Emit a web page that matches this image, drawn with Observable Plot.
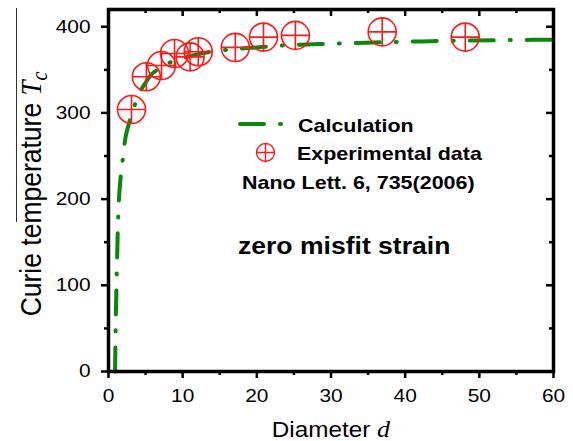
<!DOCTYPE html>
<html><head><meta charset="utf-8">
<script src="https://cdn.jsdelivr.net/npm/d3@7"></script>
<script src="https://cdn.jsdelivr.net/npm/@observablehq/plot@0.6"></script>
<style>
body{margin:0;background:#fff;}
#wrap{position:relative;width:573px;height:441px;background:#fff;}
#wrap svg{position:absolute;left:0;top:0;}
#artifact{position:absolute;left:16px;top:8px;width:1px;height:214px;background:#333;}
</style></head><body>
<div id="wrap"></div>
<script>
// Calculation curve (dash-dot)
const calcD  = [0.88, 0.9, 0.95, 1.04, 1.15, 1.25, 1.4, 1.6, 1.85, 2.3, 2.7, 3.2, 4.1, 5.0, 5.7, 6.8, 7.9, 9.2, 10.6, 12.5, 14.7, 17, 20, 24, 28.6, 33, 37, 42, 48, 54, 60];
const calcTc = [0, 10, 42, 86, 128, 163, 198, 222, 241, 272, 286, 300, 322, 335, 344, 351, 357, 361, 365, 369, 372, 374, 376, 378.5, 380, 381, 382, 383, 384, 384.5, 385];
// Experimental data (Nano Lett. 6, 735 (2006))
const expD  = [3.1, 5.1, 7.15, 8.9, 11.0, 12.1, 17.1, 20.9, 25.2, 36.9, 48.1];
const expTc = [304, 342, 355, 369, 365, 371, 376, 388, 390, 394, 388];
// Ticks
const xTicks = [0, 10, 20, 30, 40, 50, 60];
const xMinor = [5, 15, 25, 35, 45, 55];
const yTicks = [0, 100, 200, 300, 400];
const yMinor = [50, 150, 250, 350];
// Texts
const legendCalc = "Calculation";
const legendExp = "Experimental data";
const legendRef = "Nano Lett. 6, 735(2006)";
const note = "zero misfit strain";

const green = "#0b870b", red = "#ff1a1a";
const W = 573, H = 441, mL = 108, mR = 20, mT = 9, mB = 70;
const plotW = W - mL - mR, plotH = H - mT - mB;
const SANS = "'Liberation Sans', Arial, Helvetica, sans-serif";
const SERIF = "'Liberation Serif', 'Times New Roman', serif";

const calc = calcD.map((d, i) => ({d, tc: calcTc[i]}));
const exp = expD.map((d, i) => ({d, tc: expTc[i]}));

const crossCircle = {
  draw(ctx, size) {
    const r = Math.sqrt(size / Math.PI);
    ctx.moveTo(r, 0); ctx.arc(0, 0, r, 0, 2 * Math.PI);
    ctx.moveTo(-r, 0); ctx.lineTo(r, 0);
    ctx.moveTo(0, -r); ctx.lineTo(0, r);
  }
};

const tk = {strokeWidth: 2.5, stroke: "#000"};
const chart = Plot.plot({
  width: W, height: H,
  marginLeft: mL, marginRight: mR, marginTop: mT, marginBottom: mB,
  style: {fontFamily: SANS, fontSize: "18.5px", color: "#000", background: "#fff", overflow: "visible"},
  x: {domain: [0, 60]},
  y: {domain: [0, 420]},
  marks: [
    Plot.axisX({ticks: xTicks, tickSize: 7, tickPadding: 10, strokeWidth: 2.5, label: null, fontSize: 18.5}),
    Plot.tickX(xMinor, {x: d => d, insetTop: plotH, insetBottom: -4, ...tk}),
    Plot.tickX(xTicks, {x: d => d, insetBottom: plotH - 7, ...tk}),
    Plot.tickX(xMinor, {x: d => d, insetBottom: plotH - 4, ...tk}),
    Plot.axisY({ticks: yTicks, tickSize: 7, tickPadding: 11, strokeWidth: 2.5, label: null, fontSize: 18.5}),
    Plot.tickY(yMinor, {y: d => d, insetRight: plotW, insetLeft: -4, ...tk}),
    Plot.tickY(yTicks, {y: d => d, insetLeft: plotW - 7, ...tk}),
    Plot.tickY(yMinor, {y: d => d, insetLeft: plotW - 4, ...tk}),
    Plot.line(calc, {x: "d", y: "tc", curve: "monotone-x", stroke: green, strokeWidth: 4,
      strokeDasharray: "24,16,1,16", strokeLinecap: "round"}),
    Plot.dot(exp, {x: "d", y: "tc", r: 14, symbol: crossCircle, stroke: red, fill: "none", strokeWidth: 1.6}),
    Plot.frame({stroke: "#000", strokeWidth: 3.5})
  ]
});

const wrap = document.getElementById("wrap");
wrap.appendChild(chart);
const art = document.createElement("div"); art.id = "artifact"; wrap.appendChild(art);

const svg = d3.select(chart);
const ann = svg.append("g");

// Legend
ann.append("path").attr("d", "M240,124H281").attr("fill", "none").attr("stroke", green)
  .attr("stroke-width", 4).attr("stroke-dasharray", "24,16,1,16").attr("stroke-linecap", "round");
ann.append("path").attr("transform", "translate(265.5,152.5)")
  .attr("d", d3.symbol(crossCircle, 9 * 9 * Math.PI)()).attr("fill", "none").attr("stroke", red).attr("stroke-width", 1.4);
const btxt = (x, y, s, size) => ann.append("text").attr("x", x).attr("y", y).text(s)
  .attr("text-anchor", "start")
  .attr("font-family", SANS).attr("font-weight", "bold").attr("font-size", size).attr("fill", "#000");
btxt(298, 132, legendCalc, 19);
btxt(297, 160.5, legendExp, 19);
btxt(242, 189, legendRef, 19);
btxt(238, 254, note, 23.5);

// X label
const xl = ann.append("text").attr("x", 331).attr("y", 437).attr("text-anchor", "middle")
  .attr("font-family", SANS).attr("font-size", 21.5).attr("fill", "#000");
xl.append("tspan").text("Diameter ");
xl.append("tspan").attr("font-family", SERIF).attr("font-style", "italic").attr("font-size", 23).text("d");

// Y label
const yl = ann.append("text").attr("transform", "translate(40,194) rotate(-90)").attr("text-anchor", "middle")
  .attr("font-family", SANS).attr("font-size", 26.5).attr("fill", "#000").attr("data-rot", "1");
yl.append("tspan").text("Curie temperature ");
yl.append("tspan").attr("font-family", SERIF).attr("font-style", "italic").attr("font-size", 27).text("T");
yl.append("tspan").attr("font-family", SERIF).attr("font-style", "italic").attr("font-size", 20).attr("dy", 5).text("c");

// Horizontal stretch of all glyphs (the reference lettering is wide)
function stretchTexts(svgEl, s) {
  const ns = "http://www.w3.org/2000/svg";
  const sr = svgEl.getBoundingClientRect();
  Array.from(svgEl.querySelectorAll("text")).forEach(t => {
    const r = t.getBoundingClientRect();
    const a = getComputedStyle(t).textAnchor;
    let sx = (a === "end" ? r.right : a === "middle" ? (r.left + r.right) / 2 : r.left) - sr.left;
    if (t.getAttribute("data-rot")) sx = (r.left + r.right) / 2 - sr.left;
    const m = t.parentNode.getCTM ? t.parentNode.getCTM() : null;
    const px = m ? (sx - m.e) / m.a : sx;
    const g = document.createElementNS(ns, "g");
    g.setAttribute("transform", `translate(${px},0) scale(${s},1) translate(${-px},0)`);
    t.parentNode.insertBefore(g, t);
    g.appendChild(t);
  });
}
stretchTexts(chart, 1.13);
</script>
</body></html>
